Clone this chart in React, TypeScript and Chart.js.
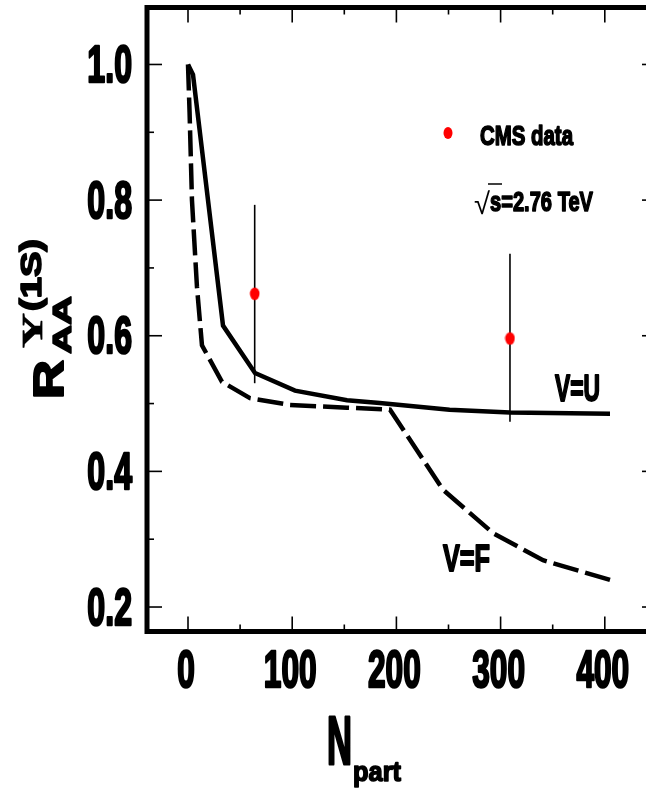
import React, { useEffect, useRef } from 'react';
import { Chart, registerables } from 'chart.js';

Chart.register(...registerables);

// V=U curve (solid)
const npartU = [0, 4.8, 33.6, 64.3, 102.7, 152.6, 184, 251, 309, 405];
const raaU = [1.0, 0.985, 0.615, 0.545, 0.519, 0.505, 0.501, 0.491, 0.487, 0.485];
// V=F curve (dashed)
const npartF = [0, 1.5, 3.8, 8.6, 13.4, 32.6, 59.5, 97.9, 152.6, 193.9, 244.7, 292.7, 340.7, 405];
const raaF = [1.0, 0.93, 0.8, 0.672, 0.586, 0.532, 0.508, 0.498, 0.494, 0.491, 0.373, 0.309, 0.269, 0.24];
// CMS data
const cmsNpart = [64, 309];
const cmsRaa = [0.662, 0.596];
const cmsErrLow = [0.53, 0.473];
const cmsErrHigh = [0.793, 0.721];
// ticks
const xTicks = [0, 100, 200, 300, 400];
const xTickLabels = ['0', '100', '200', '300', '400'];
const xMinorTicks = [50, 150, 250, 350];
const yTicks = [0.2, 0.4, 0.6, 0.8, 1.0];
const yTickLabels = ['0.2', '0.4', '0.6', '0.8', '1.0'];
const yMinorTicks = [0.3, 0.5, 0.7, 0.9];

const SANS = '"Liberation Sans", Arial, sans-serif';
const SERIF = '"Liberation Serif", "Times New Roman", serif';

function drawScaled(ctx: CanvasRenderingContext2D, text: string, font: string, x: number, baseline: number, sx: number, align: 'left' | 'right' | 'center', stroke = 0) {
  ctx.save();
  ctx.font = font;
  const w = ctx.measureText(text).width * sx;
  let x0 = x;
  if (align === 'right') x0 = x - w;
  if (align === 'center') x0 = x - w / 2;
  ctx.translate(x0, baseline);
  ctx.scale(sx, 1);
  ctx.textAlign = 'left';
  ctx.textBaseline = 'alphabetic';
  ctx.fillStyle = '#000';
  ctx.fillText(text, 0, 0);
  if (stroke > 0) {
    ctx.strokeStyle = '#000';
    ctx.lineJoin = 'round';
    ctx.lineWidth = stroke;
    ctx.strokeText(text, 0, 0);
  }
  ctx.restore();
  return w;
}

function fitText(ctx: CanvasRenderingContext2D, text: string, font: string, x0: number, x1: number, baseline: number, stroke = 0) {
  ctx.save();
  ctx.font = font;
  const w = ctx.measureText(text).width;
  const sx = (x1 - x0) / w;
  ctx.restore();
  return drawScaled(ctx, text, font, x0, baseline, sx, 'left', stroke);
}

// rotated text (-90deg): baselineX is right edge, runs upward from y0 to y1
function fitRot(ctx: CanvasRenderingContext2D, text: string, font: string, baselineX: number, y0: number, y1: number, stroke = 0) {
  ctx.save();
  ctx.font = font;
  const w = ctx.measureText(text).width;
  const sx = (y0 - y1) / w;
  ctx.translate(baselineX, y0);
  ctx.rotate(-Math.PI / 2);
  ctx.scale(sx, 1);
  ctx.textAlign = 'left';
  ctx.textBaseline = 'alphabetic';
  ctx.fillStyle = '#000';
  ctx.fillText(text, 0, 0);
  if (stroke > 0) {
    ctx.strokeStyle = '#000';
    ctx.lineJoin = 'round';
    ctx.lineWidth = stroke;
    ctx.strokeText(text, 0, 0);
  }
  ctx.restore();
}

function makeDot(): HTMLCanvasElement {
  const c = document.createElement('canvas');
  c.width = 11;
  c.height = 14;
  const g = c.getContext('2d')!;
  g.fillStyle = '#ff0000';
  g.beginPath();
  g.ellipse(5.5, 7, 4.8, 6.3, 0, 0, Math.PI * 2);
  g.fill();
  return c;
}

const decorPlugin = {
  id: 'decor',
  beforeDatasetsDraw(chart: any) {
    const ctx: CanvasRenderingContext2D = chart.ctx;
    const xs = chart.scales.x;
    const ys = chart.scales.y;
    ctx.save();
    ctx.strokeStyle = '#000';
    ctx.lineWidth = 1.6;
    for (let i = 0; i < cmsNpart.length; i++) {
      const px = xs.getPixelForValue(cmsNpart[i]);
      ctx.beginPath();
      ctx.moveTo(px, ys.getPixelForValue(cmsErrLow[i]));
      ctx.lineTo(px, ys.getPixelForValue(cmsErrHigh[i]));
      ctx.stroke();
    }
    ctx.restore();
  },
  afterDraw(chart: any) {
    const ctx: CanvasRenderingContext2D = chart.ctx;
    const xs = chart.scales.x;
    const ys = chart.scales.y;
    const a = chart.chartArea;
    ctx.save();
    // ticks
    ctx.strokeStyle = '#000';
    ctx.lineWidth = 1.6;
    const major = 15;
    const minor = 7;
    const tick = (x1: number, y1: number, x2: number, y2: number) => {
      ctx.beginPath();
      ctx.moveTo(x1, y1);
      ctx.lineTo(x2, y2);
      ctx.stroke();
    };
    xTicks.forEach((v) => {
      const px = xs.getPixelForValue(v);
      tick(px, a.bottom, px, a.bottom - major);
      tick(px, a.top, px, a.top + major);
    });
    xMinorTicks.forEach((v) => {
      const px = xs.getPixelForValue(v);
      tick(px, a.bottom, px, a.bottom - minor);
      tick(px, a.top, px, a.top + minor);
    });
    yTicks.forEach((v) => {
      const py = ys.getPixelForValue(v);
      tick(a.left, py, a.left + major, py);
      tick(a.right, py, a.right - major, py);
    });
    yMinorTicks.forEach((v) => {
      const py = ys.getPixelForValue(v);
      tick(a.left, py, a.left + minor, py);
      tick(a.right, py, a.right - minor, py);
    });
    // frame
    ctx.lineWidth = 5;
    ctx.strokeRect(a.left, a.top, a.right - a.left, a.bottom - a.top);

    // tick labels
    const tickFont = `bold 51px ${SANS}`;
    xTicks.forEach((v, i) => {
      drawScaled(ctx, xTickLabels[i], tickFont, xs.getPixelForValue(v) - 2, 687, 0.62, 'center', 2.6);
    });
    yTicks.forEach((v, i) => {
      drawScaled(ctx, yTickLabels[i], tickFont, 132, ys.getPixelForValue(v) + 17.5, 0.63, 'right', 2.6);
    });

    // x title N_part
    fitText(ctx, 'N', `bold 68px ${SANS}`, 327, 352, 764, 3);
    fitText(ctx, 'part', `bold 28px ${SANS}`, 353, 401, 781, 1.6);

    // y title R_AA^{Y(1S)}
    fitRot(ctx, 'R', `bold 42px ${SANS}`, 63, 399, 360, 2);
    fitRot(ctx, 'AA', `bold 25px ${SANS}`, 71, 354, 296, 1.4);
    fitRot(ctx, '\u03A5', `bold 29px ${SERIF}`, 42, 348, 313, 0.8);
    fitRot(ctx, '(1S)', `bold 29px ${SANS}`, 41, 311, 239, 1.6);

    // legend
    ctx.fillStyle = '#ff0000';
    ctx.beginPath();
    ctx.ellipse(448, 133, 4.5, 6, 0, 0, Math.PI * 2);
    ctx.fill();
    fitText(ctx, 'CMS data', `bold 27px ${SANS}`, 480, 573, 145, 1.6);

    // sqrt(s) = 2.76 TeV
    fitText(ctx, '\u221A', `30px ${SANS}`, 474, 490, 214);
    ctx.strokeStyle = '#000';
    ctx.lineWidth = 1.5;
    ctx.beginPath();
    ctx.moveTo(488, 184);
    ctx.lineTo(502, 184);
    ctx.stroke();
    fitText(ctx, 's=2.76 TeV', `bold 28px ${SANS}`, 490, 593, 211, 1.6);

    // curve labels
    fitText(ctx, 'V=U', `bold 37px ${SANS}`, 555, 600, 401, 2);
    fitText(ctx, 'V=F', `bold 37px ${SANS}`, 443, 490, 571, 2);
    ctx.restore();
  },
};

export default function App() {
  const ref = useRef<HTMLCanvasElement | null>(null);
  useEffect(() => {
    document.body.style.margin = '0';
    const canvas = ref.current;
    if (!canvas) return;
    const dot = makeDot();
    const chart = new Chart(canvas, {
      type: 'line',
      data: {
        datasets: [
          {
            label: 'V=U',
            data: npartU.map((x, i) => ({ x, y: raaU[i] })),
            borderColor: '#000',
            borderWidth: 4.5,
            pointRadius: 0,
            tension: 0,
            fill: false,
          },
          {
            label: 'V=F',
            data: npartF.map((x, i) => ({ x, y: raaF[i] })),
            borderColor: '#000',
            borderWidth: 4.5,
            borderDash: [26, 7],
            pointRadius: 0,
            tension: 0,
            fill: false,
          },
          {
            label: 'CMS data',
            type: 'scatter',
            data: cmsNpart.map((x, i) => ({ x, y: cmsRaa[i] })),
            backgroundColor: '#ff0000',
            borderColor: '#ff0000',
            pointStyle: dot,
            pointRadius: 6,
            pointBorderWidth: 0,
            showLine: false,
          } as any,
        ],
      },
      options: {
        responsive: false,
        animation: false,
        devicePixelRatio: 1,
        layout: { padding: { left: 147, top: 7.5, right: 8, bottom: 157.5 } },
        plugins: { legend: { display: false }, tooltip: { enabled: false } },
        scales: {
          x: { type: 'linear', display: false, min: -39.35, max: 450.1 },
          y: { type: 'linear', display: false, min: 0.1639, max: 1.084 },
        },
      },
      plugins: [decorPlugin],
    });
    return () => chart.destroy();
  }, []);
  return (
    <div style={{ width: 646, height: 789, overflow: 'hidden', position: 'relative', background: '#fff' }}>
      <canvas ref={ref} width={665} height={789} style={{ display: 'block' }} />
    </div>
  );
}
